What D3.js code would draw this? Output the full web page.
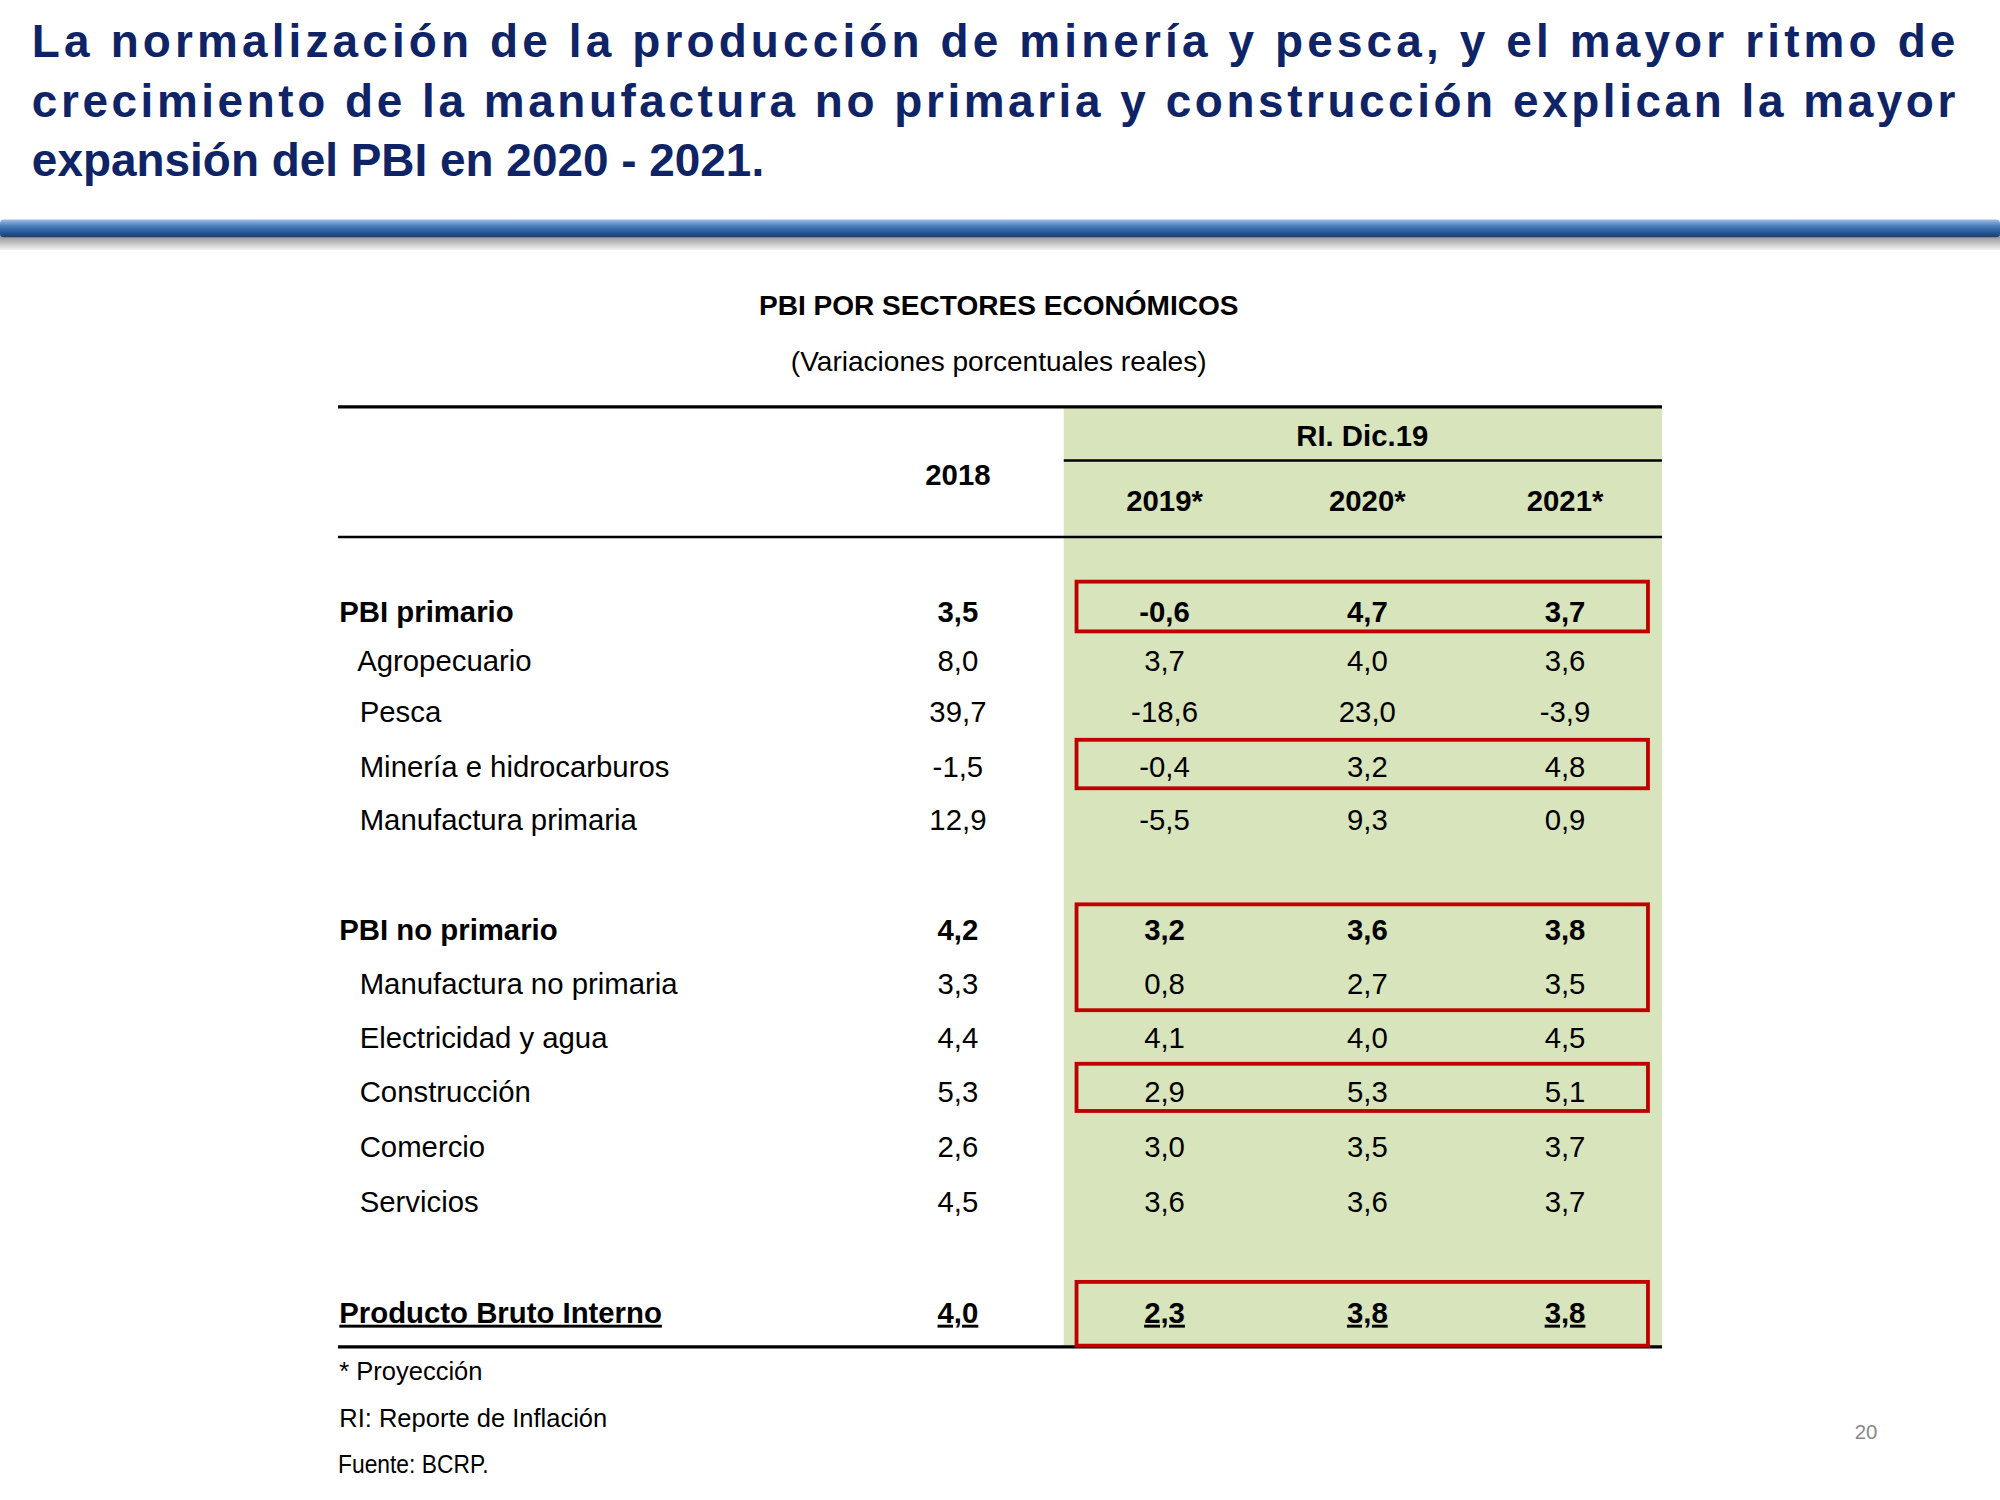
<!DOCTYPE html>
<html><head><meta charset="utf-8">
<script src="https://cdn.jsdelivr.net/npm/d3@7"></script>
<style>body{margin:0;background:#fff}svg{display:block}</style>
</head><body>
<script>
const titleLines = ["La normalización de la producción de minería y pesca, y el mayor ritmo de",
  "crecimiento de la manufactura no primaria y construcción explican la mayor",
  "expansión del PBI en 2020 - 2021."];
const years = ["2018","2019*","2020*","2021*"];
const rows = ["PBI primario","Agropecuario","Pesca","Minería e hidrocarburos","Manufactura primaria",
  "PBI no primario","Manufactura no primaria","Electricidad y agua","Construcción","Comercio","Servicios",
  "Producto Bruto Interno"];
const v2018 = ["3,5","8,0","39,7","-1,5","12,9","4,2","3,3","4,4","5,3","2,6","4,5","4,0"];
const v2019 = ["-0,6","3,7","-18,6","-0,4","-5,5","3,2","0,8","4,1","2,9","3,0","3,6","2,3"];
const v2020 = ["4,7","4,0","23,0","3,2","9,3","3,6","2,7","4,0","5,3","3,5","3,6","3,8"];
const v2021 = ["3,7","3,6","-3,9","4,8","0,9","3,8","3,5","4,5","5,1","3,7","3,7","3,8"];
const level = [0,1,1,1,1,0,1,1,1,1,1,2]; // 0 bold, 1 sub, 2 total
const rowY = [488,526,566,609,651,737,779,822,864,907,950,1037];
const boxes = [[0,0],[3,3],[5,6],[8,8],[11,11]];

const svg = d3.select("body").append("svg").attr("width",2000).attr("height",1500)
  .attr("viewBox","0 0 1568 1176").style("font-family","Liberation Sans, Arial, sans-serif");
const defs = svg.append("defs");
const g1 = defs.append("linearGradient").attr("id","bar").attr("x1",0).attr("x2",0).attr("y1",0).attr("y2",1);
[["0%","#9fc0e8"],["35%","#4f81bd"],["70%","#2a5a9a"],["100%","#1b3d6e"]].forEach(s=>g1.append("stop").attr("offset",s[0]).attr("stop-color",s[1]));
const g2 = defs.append("linearGradient").attr("id","sh").attr("x1",0).attr("x2",0).attr("y1",0).attr("y2",1);
[["0%","#8a8a8a"],["100%","#f2f2f2"]].forEach(s=>g2.append("stop").attr("offset",s[0]).attr("stop-color",s[1]));

titleLines.forEach((t,i)=>{
  const el = svg.append("text").attr("x",25).attr("y",[45,92,138][i]).text(t)
    .attr("font-size",36).attr("font-weight","bold").attr("fill","#0f2466");
  if(i<2) el.attr("textLength",1508).attr("lengthAdjust","spacing");
});
svg.append("rect").attr("x",0).attr("y",184).attr("width",1568).attr("height",12).attr("fill","url(#sh)");
svg.append("rect").attr("x",0).attr("y",172).attr("width",1568).attr("height",14).attr("rx",3).attr("fill","url(#bar)");

svg.append("text").attr("x",783).attr("y",247).attr("text-anchor","middle").attr("font-size",22).attr("font-weight","bold").text("PBI POR SECTORES ECONÓMICOS");
svg.append("text").attr("x",783).attr("y",291).attr("text-anchor","middle").attr("font-size",22).text("(Variaciones porcentuales reales)");

const x = d3.scalePoint().domain(years).range([751,1227]);
const xc = d3.scaleOrdinal().domain(years).range([751,913,1072,1227]);
svg.append("rect").attr("x",834).attr("y",320).attr("width",469).attr("height",736).attr("fill","#d8e4bc");
const line=(x1,x2,y,w)=>svg.append("line").attr("x1",x1).attr("x2",x2).attr("y1",y).attr("y2",y).attr("stroke","#000").attr("stroke-width",w);
line(265,1303,319,2.5); line(834,1303,361,2); line(265,1303,421,2); line(265,1303,1056,2.5);

svg.append("text").attr("x",1068).attr("y",350).attr("text-anchor","middle").attr("font-size",23).attr("font-weight","bold").text("RI. Dic.19");
svg.append("text").attr("x",xc("2018")).attr("y",380).attr("text-anchor","middle").attr("font-size",23).attr("font-weight","bold").text("2018");
years.slice(1).forEach(yv=>svg.append("text").attr("x",xc(yv)).attr("y",401).attr("text-anchor","middle").attr("font-size",23).attr("font-weight","bold").text(yv));

const cols=[v2018,v2019,v2020,v2021];
rows.forEach((r,i)=>{
  const bold = level[i]!==1;
  svg.append("text").attr("x", bold?266:(i===1?280:282)).attr("y",rowY[i]).attr("font-size",23)
    .attr("font-weight",bold?"bold":"normal").attr("text-decoration",level[i]===2?"underline":null).text(r);
  cols.forEach((c,j)=>svg.append("text").attr("x",xc(years[j])).attr("y",rowY[i]).attr("text-anchor","middle")
    .attr("font-size",23).attr("font-weight",bold?"bold":"normal").attr("text-decoration",level[i]===2?"underline":null).text(c[i]));
});
const boxTop=[456,580,709,834,1005], boxBot=[495,618,792,871,1055];
boxes.forEach((b,k)=>svg.append("rect").attr("x",844).attr("y",boxTop[k]).attr("width",448).attr("height",boxBot[k]-boxTop[k])
  .attr("fill","none").attr("stroke","#c00000").attr("stroke-width",3));

svg.append("text").attr("x",266).attr("y",1082).attr("font-size",20).text("* Proyección");
svg.append("text").attr("x",266).attr("y",1119).attr("font-size",20).text("RI: Reporte de Inflación");
svg.append("text").attr("x",265).attr("y",1155).attr("font-size",20).attr("textLength",118).attr("lengthAdjust","spacingAndGlyphs").text("Fuente: BCRP.");
svg.append("text").attr("x",1463).attr("y",1128).attr("text-anchor","middle").attr("font-size",16).attr("fill","#888").text("20");
</script>
</body></html>
